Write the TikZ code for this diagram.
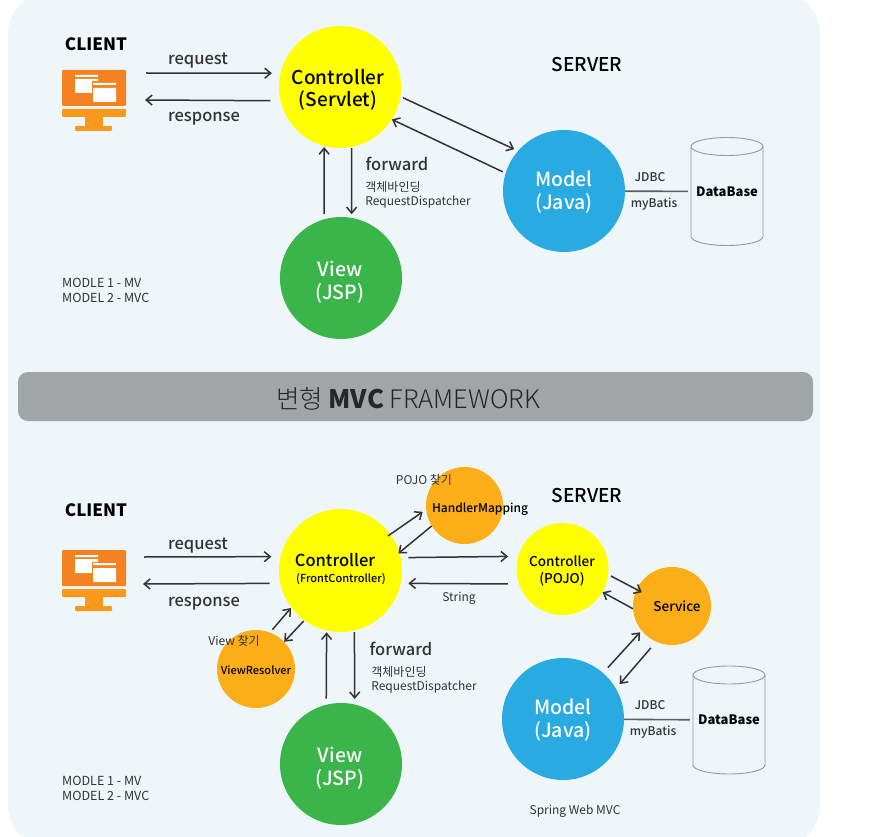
\documentclass[tikz,border=0pt]{standalone}
\usepackage{fontspec}
\setmainfont{Noto Sans CJK KR}
\newfontfamily\medfont{Noto Sans CJK KR Medium}
\newfontfamily\lightfont{Noto Sans CJK KR Light}
\usetikzlibrary{arrows.meta}
\definecolor{panelcol}{HTML}{EEF6FA}
\definecolor{bannercol}{HTML}{A2A5A8}
\definecolor{iconcol}{HTML}{F58220}
\definecolor{footcol}{HTML}{F8981D}
\definecolor{ctrlcol}{HTML}{FFFF00}
\definecolor{viewcol}{HTML}{39B54A}
\definecolor{modelcol}{HTML}{29ABE2}
\definecolor{helpercol}{HTML}{FBAE17}
\definecolor{dbcol}{HTML}{8C9BAE}
\definecolor{linecol}{HTML}{333333}
\tikzset{>={Straight Barb[length=6pt,width=10pt]}}
\tikzset{
  ball/.style={circle,inner sep=0,align=center},
  flow/.style={->,linecol,line width=1.5pt},
  jdbcline/.style={linecol!80,line width=1.6pt},
  dbase/.style={rectangle,minimum width=72pt,minimum height=108pt,inner sep=0,font=\fontsize{13}{16}\selectfont\bfseries},
  dbline/.style={dbcol,line width=0.9pt},
  small/.style={inner sep=0,text=linecol,font=\fontsize{12}{14}\selectfont},
  tiny/.style={inner sep=0,text=linecol,font=\fontsize{12.5}{15}\selectfont,align=left,anchor=west},
  smallbold/.style={inner sep=0,text=linecol,font=\fontsize{12}{14}\selectfont\medfont},
  medium/.style={inner sep=0,text=linecol,font=\fontsize{16.5}{18}\selectfont\medfont},
  head/.style={inner sep=0,text=black,font=\fontsize{17}{20}\selectfont\bfseries},
  server/.style={inner sep=0,text=black,font=\fontsize{19}{22}\selectfont\medfont},
  bigwhite/.style={inner sep=0,text=white,align=center,font=\fontsize{19.5}{23}\selectfont\medfont},
}
\newcommand\clientIcon[2]{
  \begin{scope}[shift={(#1,#2)}]
    \fill[iconcol,rounded corners=1pt] (62,70) rectangle (126,106);
    \fill[footcol,rounded corners=1pt] (62,109) rectangle (126,117);
    \fill[footcol] (85,117) rectangle (103,126);
    \fill[footcol,rounded corners=1pt] (75,126) rectangle (112,131);
    \fill[white] (75,75) rectangle (98,77) (75,79) rectangle (98,93);
    \fill[iconcol] (92,81.5) rectangle (118,104);
    \fill[white] (93,83) rectangle (116,85) (93,88) rectangle (116,102);
  \end{scope}
}
\newcommand\dbCylinder[3]{
  \node[dbase] (#1) at (#2,#3) {DataBase};
  \draw[dbline] (#2,#3)++(-36,-45) -- ++(0,90) arc[start angle=180,end angle=360,x radius=36pt,y radius=9pt] -- ++(0,-90);
  \draw[dbline] (#2,#3-45) ellipse[x radius=36pt,y radius=9pt];
}

\begin{document}
\begin{tikzpicture}[x=1pt,y=-1pt]
  \useasboundingbox (0,0) rectangle (873,837);
  \clip (0,0) rectangle (873,837);
  \fill[panelcol,rounded corners=40pt] (8,-7) rectangle (820,846);

  % upper half
  \clientIcon{0}{0}
  \node[head] (clientA) at (96,44) {CLIENT};
  \node[server] (serverA) at (587,65) {SERVER};
  \node[ball,fill=ctrlcol,minimum size=122pt] (ctrlA) at (340,87) {};
  \node[inner sep=0,align=center,font=\fontsize{19}{22}\selectfont\medfont] (ctrlAtext) at (338,89.5) {Controller\\(Servlet)};
  \node[ball,fill=viewcol,minimum size=122pt] (viewA) at (341,278) {};
  \node[bigwhite] (viewAtext) at (340,282.5) {View\\(JSP)};
  \node[ball,fill=modelcol,minimum size=122pt] (modelA) at (564,191) {};
  \node[bigwhite] (modelAtext) at (564,192) {Model\\(Java)};
  \dbCylinder{dbA}{727}{191.5}

  \coordinate (reqA) at (146,73);
  \coordinate (resA) at (145,100);
  \draw[flow,shorten >=8.5pt] (reqA) -- (ctrlA.167);
  \draw[flow,shorten <=10pt] (ctrlA.193) -- (resA);
  \draw[flow,shorten <=2.8pt,shorten >=4pt] (ctrlA.-9) -- (modelA.139);
  \draw[flow,shorten <=3pt] (modelA.163) -- (ctrlA.-32);
  \draw[flow,shorten <=1pt,shorten >=3.5pt] (ctrlA.-79) -- (viewA.80);
  \draw[flow,shorten <=5pt,shorten >=1pt] (viewA.106) -- (ctrlA.-105);
  \draw[jdbcline,shorten >=3pt] (modelA) -- (dbA);

  \node[medium] (reqtextA) at (198,61) {request};
  \node[medium] (restextA) at (204,119) {response};
  \node[medium] (fwdA) at (397,164) {forward};
  \node[small] (bindA) at (393,187) {객체바인딩};
  \node[small] (dispA) at (418,202) {RequestDispatcher};
  \node[smallbold] (jdbcA) at (650,177) {JDBC};
  \node[smallbold] (batisA) at (654,204) {myBatis};
  \node[tiny] (modleA) at (62,290.5) {MODLE 1 - MV\\MODEL 2 - MVC};

  % banner
  \fill[bannercol,rounded corners=10pt] (18,372) rectangle (813,421);
  \node[inner sep=0,text=black!85,font=\fontsize{25.5}{30}\selectfont\lightfont] (bannertext) at (408,399) {변형 {\bfseries\rmfamily MVC} FRAMEWORK};

  % lower half
  \clientIcon{0}{480}
  \node[head] (clientB) at (96,510) {CLIENT};
  \node[server] (serverB) at (587,496) {SERVER};
  \node[ball,fill=ctrlcol,minimum size=123pt] (ctrlB) at (340.5,570.5) {};
  \node[inner sep=0,font=\fontsize{16.5}{20}\selectfont\medfont] (ctrlBtitle) at (335,560) {Controller};
  \node[inner sep=0,font=\fontsize{11}{13}\selectfont\medfont] (ctrlBsub) at (341,579) {(FrontController)};
  \node[ball,fill=helpercol,minimum size=77pt] (handler) at (464.5,505.5) {};
  \node[inner sep=0,font=\fontsize{12}{14}\selectfont\medfont] (handlertext) at (480,509) {HandlerMapping};
  \node[ball,fill=helpercol,minimum size=78pt] (resolver) at (256,669) {};
  \node[inner sep=0,font=\fontsize{11}{14}\selectfont\medfont] (resolvertext) at (256,670) {ViewResolver};
  \node[ball,fill=viewcol,minimum size=122pt] (viewB) at (341,764) {};
  \node[bigwhite] (viewBtext) at (340,768.5) {View\\(JSP)};
  \node[ball,fill=ctrlcol,minimum size=92pt] (pojo) at (562.5,569) {};
  \node[inner sep=0,align=center,font=\fontsize{13.5}{17}\selectfont\medfont] (pojotext) at (562,571) {Controller\\(POJO)};
  \node[ball,fill=helpercol,minimum size=78pt] (service) at (672,606) {};
  \node[inner sep=0,font=\fontsize{13.5}{15}\selectfont\medfont] (servicetext) at (677,606) {Service};
  \node[ball,fill=modelcol,minimum size=122pt] (modelB) at (563,719) {};
  \node[bigwhite] (modelBtext) at (563,720) {Model\\(Java)};
  \dbCylinder{dbB}{729}{720}

  \coordinate (reqB) at (144,557);
  \coordinate (resB) at (143,584);
  \draw[flow,shorten >=9pt] (reqB) -- (ctrlB.167.3);
  \draw[flow,shorten <=10.5pt] (ctrlB.192.7) -- (resB);
  \draw[flow,shorten <=-3pt,shorten >=4pt] (ctrlB.36) -- (handler.186);
  \draw[flow,shorten >=-1.5pt] (handler.212) -- (ctrlB.17);
  \draw[flow,shorten <=7.5pt,shorten >=10pt] (ctrlB.12.7) -- (pojo.164.9);
  \draw[flow,shorten <=11pt,shorten >=7.5pt] (pojo.199) -- (ctrlB.-12.7);
  \draw[flow,shorten <=3.7pt,shorten >=0.6pt] (resolver.69) -- (ctrlB.217);
  \draw[flow,shorten <=0.8pt] (ctrlB.234) -- (resolver.44);
  \draw[flow,shorten <=5.9pt,shorten >=1.7pt] (viewB.104.2) -- (ctrlB.-103.6);
  \draw[flow,shorten <=1.5pt,shorten >=5.4pt] (ctrlB.-77.3) -- (viewB.77.7);
  \draw[flow,shorten <=2.9pt,shorten >=-6pt] (pojo.-7) -- (service.155);
  \draw[flow] (service.184) -- (pojo.-30);
  \draw[flow,shorten <=7pt,shorten >=2.2pt] (modelB.49) -- (service.219);
  \draw[flow,shorten <=8pt,shorten >=5.7pt] (service.246) -- (modelB.30);
  \draw[jdbcline,shorten >=3pt] (modelB) -- (dbB);

  \node[medium] (reqtextB) at (198,546) {request};
  \node[medium] (restextB) at (204,604) {response};
  \node[medium] (fwdB) at (401,649) {forward};
  \node[small] (bindB) at (399,672) {객체바인딩};
  \node[small] (dispB) at (424,687) {RequestDispatcher};
  \node[small] (stringB) at (459,598) {String};
  \node[small] (findpojo) at (424,480) {POJO 찾기};
  \node[small] (findview) at (234,641) {View 찾기};
  \node[smallbold] (jdbcB) at (650,705) {JDBC};
  \node[smallbold] (batisB) at (653,732) {myBatis};
  \node[small] (springB) at (575,811) {Spring Web MVC};
  \node[tiny] (modleB) at (62,788.5) {MODLE 1 - MV\\MODEL 2 - MVC};
\end{tikzpicture}
\end{document}
